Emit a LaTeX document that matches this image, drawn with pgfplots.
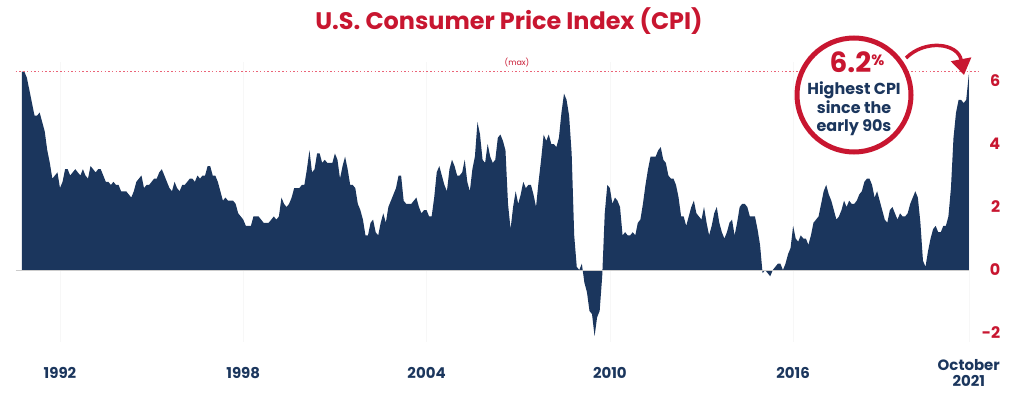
\documentclass[border=0pt]{standalone}
\usepackage{fontspec}
\setmainfont{Poppins}
\usepackage{pgfplots}
\usepackage{pgfplotstable}
\pgfplotsset{compat=1.18}
\usetikzlibrary{arrows.meta}
\definecolor{navy}{RGB}{27,54,93}
\definecolor{cred}{RGB}{200,22,48}
\definecolor{lred}{RGB}{235,100,120}

% Monthly U.S. CPI year-over-year change, Oct 1990 - Oct 2021
\pgfplotstableread[row sep=\\]{
v\\
6.3\\ 6.3\\ 6.1\\
5.7\\ 5.3\\ 4.9\\ 4.9\\ 5.0\\ 4.7\\ 4.4\\ 3.8\\ 3.4\\ 2.9\\ 3.0\\ 3.1\\
2.6\\ 2.8\\ 3.2\\ 3.2\\ 3.0\\ 3.1\\ 3.2\\ 3.1\\ 3.0\\ 3.2\\ 3.0\\ 2.9\\
3.3\\ 3.2\\ 3.1\\ 3.2\\ 3.2\\ 3.0\\ 2.8\\ 2.8\\ 2.7\\ 2.8\\ 2.7\\ 2.7\\
2.5\\ 2.5\\ 2.5\\ 2.4\\ 2.3\\ 2.5\\ 2.8\\ 2.9\\ 3.0\\ 2.6\\ 2.7\\ 2.7\\
2.8\\ 2.9\\ 2.9\\ 3.1\\ 3.2\\ 3.0\\ 2.8\\ 2.6\\ 2.5\\ 2.8\\ 2.6\\ 2.5\\
2.7\\ 2.7\\ 2.8\\ 2.9\\ 2.9\\ 2.8\\ 3.0\\ 2.9\\ 3.0\\ 3.0\\ 3.3\\ 3.3\\
3.0\\ 3.0\\ 2.8\\ 2.5\\ 2.2\\ 2.3\\ 2.2\\ 2.2\\ 2.2\\ 2.1\\ 1.8\\ 1.7\\
1.6\\ 1.4\\ 1.4\\ 1.4\\ 1.7\\ 1.7\\ 1.7\\ 1.6\\ 1.5\\ 1.5\\ 1.5\\ 1.6\\
1.7\\ 1.6\\ 1.7\\ 2.3\\ 2.1\\ 2.0\\ 2.1\\ 2.3\\ 2.6\\ 2.6\\ 2.6\\ 2.7\\
2.7\\ 3.2\\ 3.8\\ 3.1\\ 3.2\\ 3.7\\ 3.7\\ 3.4\\ 3.5\\ 3.4\\ 3.4\\ 3.4\\
3.7\\ 3.5\\ 2.9\\ 3.3\\ 3.6\\ 3.2\\ 2.7\\ 2.7\\ 2.6\\ 2.1\\ 1.9\\ 1.6\\
1.1\\ 1.1\\ 1.5\\ 1.6\\ 1.2\\ 1.1\\ 1.5\\ 1.8\\ 1.5\\ 2.0\\ 2.2\\ 2.4\\
2.6\\ 3.0\\ 3.0\\ 2.2\\ 2.1\\ 2.1\\ 2.1\\ 2.2\\ 2.3\\ 2.0\\ 1.8\\ 1.9\\
1.9\\ 1.7\\ 1.7\\ 2.3\\ 3.1\\ 3.3\\ 3.0\\ 2.7\\ 2.5\\ 3.2\\ 3.5\\ 3.3\\
3.0\\ 3.0\\ 3.1\\ 3.5\\ 2.8\\ 2.5\\ 3.2\\ 3.6\\ 4.7\\ 4.3\\ 3.5\\ 3.4\\
4.0\\ 3.6\\ 3.4\\ 3.5\\ 4.2\\ 4.3\\ 4.1\\ 3.8\\ 2.1\\ 1.3\\ 2.0\\ 2.5\\
2.1\\ 2.4\\ 2.8\\ 2.6\\ 2.7\\ 2.7\\ 2.4\\ 2.0\\ 2.8\\ 3.5\\ 4.3\\ 4.1\\
4.3\\ 4.0\\ 4.0\\ 3.9\\ 4.2\\ 5.0\\ 5.6\\ 5.4\\ 4.9\\ 3.7\\ 1.1\\ 0.1\\
0.0\\ 0.2\\ -0.4\\ -0.7\\ -1.3\\ -1.4\\ -2.1\\ -1.5\\ -1.3\\ -0.2\\ 1.8\\ 2.7\\
2.6\\ 2.1\\ 2.3\\ 2.2\\ 2.0\\ 1.1\\ 1.2\\ 1.1\\ 1.1\\ 1.2\\ 1.1\\ 1.5\\
1.6\\ 2.1\\ 2.7\\ 3.2\\ 3.6\\ 3.6\\ 3.6\\ 3.8\\ 3.9\\ 3.5\\ 3.4\\ 3.0\\
2.9\\ 2.9\\ 2.7\\ 2.3\\ 1.7\\ 1.7\\ 1.4\\ 1.7\\ 2.0\\ 2.2\\ 1.8\\ 1.7\\
1.6\\ 2.0\\ 1.5\\ 1.1\\ 1.4\\ 1.8\\ 2.0\\ 1.5\\ 1.2\\ 1.0\\ 1.2\\ 1.5\\
1.6\\ 1.1\\ 1.5\\ 2.0\\ 2.1\\ 2.1\\ 2.0\\ 1.7\\ 1.7\\ 1.7\\ 1.3\\ 0.8\\
-0.1\\ 0.0\\ -0.1\\ -0.2\\ 0.0\\ 0.1\\ 0.2\\ 0.2\\ 0.0\\ 0.2\\ 0.5\\ 0.7\\
1.4\\ 1.0\\ 0.9\\ 1.1\\ 1.0\\ 1.0\\ 0.8\\ 1.1\\ 1.5\\ 1.6\\ 1.7\\ 2.1\\
2.5\\ 2.7\\ 2.4\\ 2.2\\ 1.9\\ 1.6\\ 1.7\\ 1.9\\ 2.2\\ 2.0\\ 2.2\\ 2.1\\
2.1\\ 2.2\\ 2.4\\ 2.5\\ 2.8\\ 2.9\\ 2.9\\ 2.7\\ 2.3\\ 2.5\\ 2.2\\ 1.9\\
1.6\\ 1.5\\ 1.9\\ 2.0\\ 1.8\\ 1.6\\ 1.8\\ 1.7\\ 1.7\\ 1.8\\ 2.1\\ 2.3\\
2.5\\ 2.3\\ 1.5\\ 0.3\\ 0.1\\ 0.6\\ 1.0\\ 1.3\\ 1.4\\ 1.2\\ 1.2\\ 1.4\\
1.4\\ 1.7\\ 2.6\\ 4.2\\ 5.0\\ 5.4\\ 5.4\\ 5.3\\ 5.4\\ 6.2\\
}\cpidata

\begin{document}
\begin{tikzpicture}[x=1bp,y=1bp]
\useasboundingbox (0,0) rectangle (1024,395);
\begin{axis}[
  at={(15.7bp,52.55bp)}, anchor=south west,
  scale only axis, width=964bp, height=280.35bp,
  xmin=-2.4, xmax=376.3, ymin=-2.3, ymax=6.6,
  axis line style={draw=none},
  major tick length=0pt,
  xtick={15,87,159,231,303,372},
  xticklabels={1992,1998,2004,2010,2016,{October\\2021}},
  xticklabel style={align=center, anchor=center, yshift=-30.5bp,
    font=\fontsize{15}{17}\selectfont\bfseries, text=navy},
  ytick={-2,0,2,4,6},
  yticklabel pos=right,
  yticklabel style={anchor=east, xshift=24bp,
    font=\fontsize{16}{18}\selectfont\bfseries, text=cred},
  /pgf/number format/assume math mode=true,
  xmajorgrids, grid style={black!3, line width=0.5bp},
  clip=false,
]
\addplot[fill=navy, draw=none] table[x expr=\coordindex, y=v] {\cpidata} \closedcycle;
\addplot[draw=black!20!white, line width=0.6bp] coordinates {(-2.4,0) (372,0)};
\draw[color=lred, line width=1.5bp, dash pattern=on 1.5bp off 2.2bp] (axis cs:-2.4,6.3) -- (axis cs:376.3,6.3);
\end{axis}

% title
\node[text=cred, font=\fontsize{24}{28}\selectfont\bfseries] at (509,374) {U.S. Consumer Price Index (CPI)};
\node[text=cred, font=\fontsize{8}{9}\selectfont] at (517,332) {(max)};

% annotation circle
\draw[cred, line width=5bp, fill=white] (854,300) circle (57);
\node[text=cred, font=\fontsize{28}{30}\selectfont\bfseries, inner sep=0pt] at (857,333) {6.2\raisebox{7bp}{\fontsize{15}{15}\selectfont\%}};
\node[text=navy, align=center, font=\fontsize{16}{18.5}\selectfont\bfseries, inner sep=0pt] at (854,286) {Highest CPI\\since the\\early 90s};
\draw[cred, line width=3.5bp, -{Triangle[length=16bp,width=20bp]}] (906,337) .. controls (925,356) and (958,352) .. (964,320);
\end{tikzpicture}
\end{document}
